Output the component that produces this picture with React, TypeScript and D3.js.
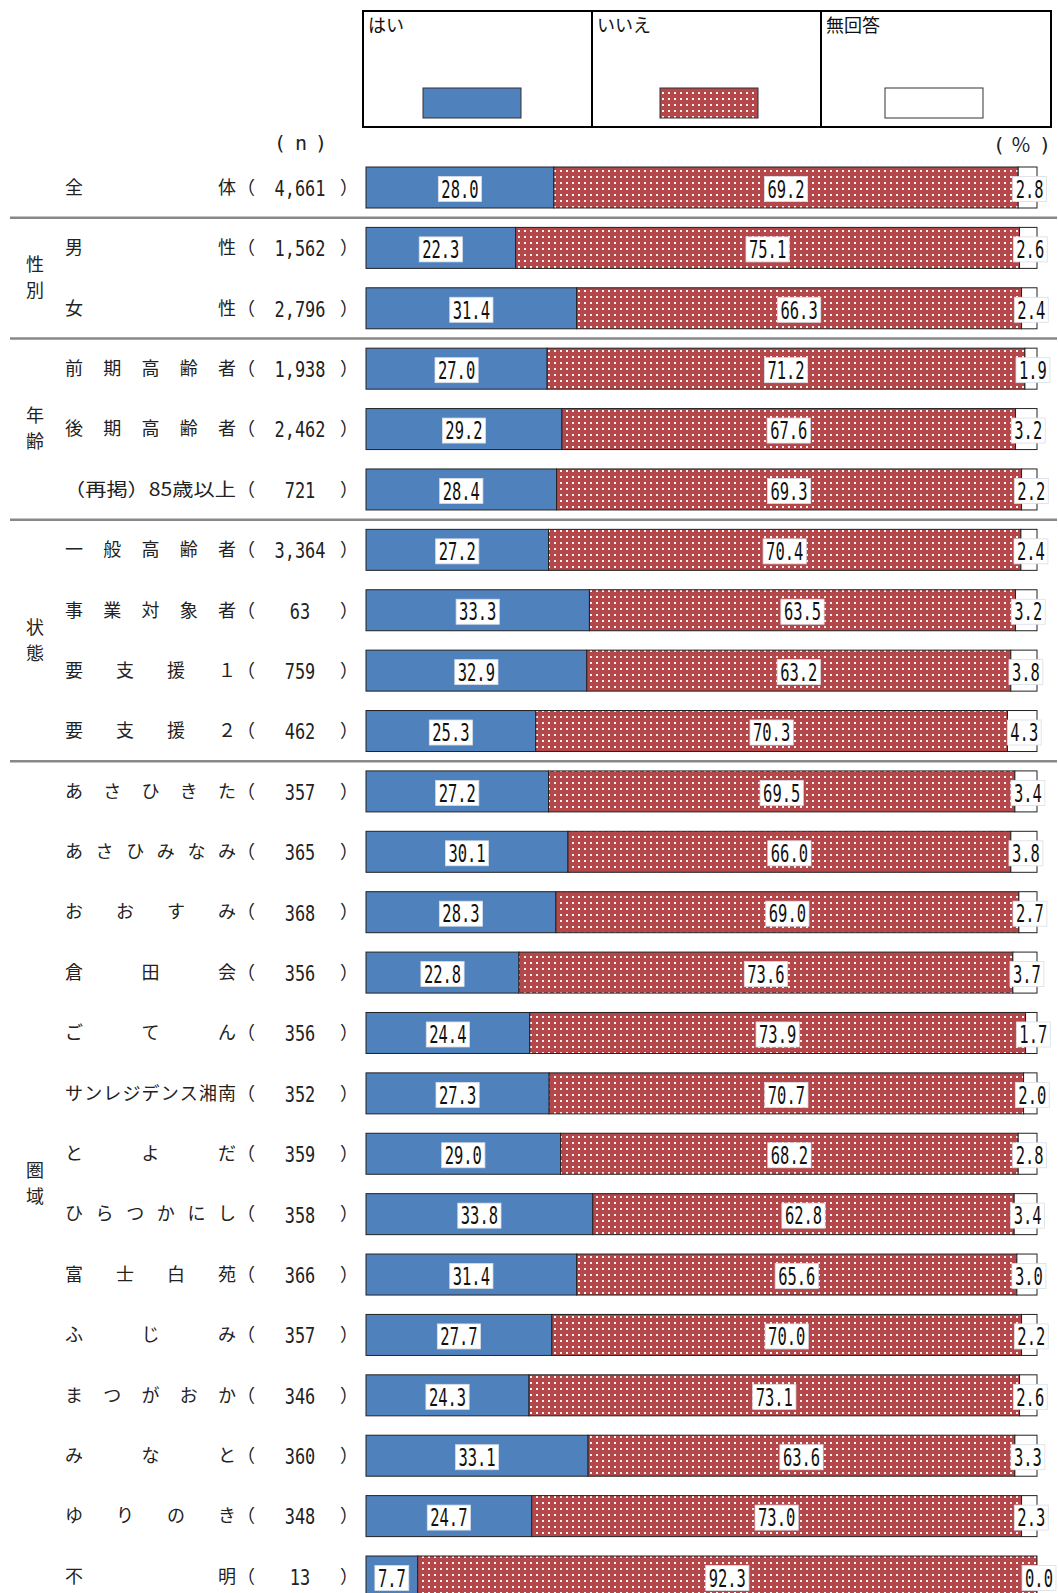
import * as d3 from "d3";

// rows (top to bottom)
const labels = [
  "全体", "男性", "女性",
  "前期高齢者", "後期高齢者", "（再掲）85歳以上",
  "一般高齢者", "事業対象者", "要支援１", "要支援２",
  "あさひきた", "あさひみなみ", "おおすみ", "倉田会", "ごてん", "サンレジデンス湘南",
  "とよだ", "ひらつかにし", "富士白苑", "ふじみ", "まつがおか", "みなと", "ゆりのき", "不明",
];
const nValues = [
  "4,661", "1,562", "2,796",
  "1,938", "2,462", "721",
  "3,364", "63", "759", "462",
  "357", "365", "368", "356", "356", "352", "359", "358", "366", "357", "346", "360", "348", "13",
];
const yes = [28.0, 22.3, 31.4, 27.0, 29.2, 28.4, 27.2, 33.3, 32.9, 25.3, 27.2, 30.1, 28.3, 22.8, 24.4, 27.3, 29.0, 33.8, 31.4, 27.7, 24.3, 33.1, 24.7, 7.7];
const no = [69.2, 75.1, 66.3, 71.2, 67.6, 69.3, 70.4, 63.5, 63.2, 70.3, 69.5, 66.0, 69.0, 73.6, 73.9, 70.7, 68.2, 62.8, 65.6, 70.0, 73.1, 63.6, 73.0, 92.3];
const noAnswer = [2.8, 2.6, 2.4, 1.9, 3.2, 2.2, 2.4, 3.2, 3.8, 4.3, 3.4, 3.8, 2.7, 3.7, 1.7, 2.0, 2.8, 3.4, 3.0, 2.2, 2.6, 3.3, 2.3, 0.0];
const seriesNames = ["はい", "いいえ", "無回答"];

// groups: [label, first row, last row]
const groups: [string, number, number][] = [
  ["性別", 1, 2],
  ["年齢", 3, 5],
  ["状態", 6, 9],
  ["圏域", 10, 23],
];
const separatorsAfter = [0, 2, 5, 9];

const W = 1058;
const H = 1593;
const JP = "'Noto Sans CJK JP', 'Noto Sans', sans-serif";
const MONO = "'DejaVu Sans Mono', 'Liberation Mono', monospace";
const BLUE = "#4f81bd";

const x = d3.scaleLinear().domain([0, 100]).range([366, 1037]);
const y = d3.scalePoint<number>().domain(d3.range(labels.length)).range([187.5, 1576.5]);
const barH = 41;

function CatLabel({ text, cy }: { text: string; cy: number }) {
  if (text.startsWith("（再掲）")) {
    // fullwidth paren has blank left half, so start a bit left
    return (
      <text x={64} y={cy} dy="0.35em" fontFamily={JP} fontSize={18} fill="#222"
        textLength={172} lengthAdjust="spacingAndGlyphs">{text}</text>
    );
  }
  const chars = Array.from(text);
  const pos = d3.scaleLinear().domain([0, Math.max(1, chars.length - 1)]).range([74, 227]);
  return (
    <g>
      {chars.map((c, i) => (
        <text key={i} x={pos(i)} y={cy} dy="0.35em" textAnchor="middle" fontFamily={JP} fontSize={18} fill="#222">{c}</text>
      ))}
    </g>
  );
}

function ValueLabel({ cx, cy, v }: { cx: number; cy: number; v: number }) {
  const s = v.toFixed(1);
  const tl = s.length * 9.3;
  return (
    <g>
      <rect x={cx - tl / 2 - 3} y={cy - 11} width={tl + 6} height={25} fill="#fff" stroke="#d8dde6" strokeWidth={0.8} />
      <text x={cx - tl / 2} y={cy + 1.5} dy="0.35em" fontFamily={MONO} fontSize={25} fill="#111"
        textLength={tl} lengthAdjust="spacingAndGlyphs">{s}</text>
    </g>
  );
}

export default function App() {
  const legendX = [363, 592, 821, 1051];
  const swatchOffset = [60, 68, 64];
  const swatchFill = [BLUE, "url(#dots)", "#fff"];
  return (
    <svg width={W} height={H} style={{ position: "absolute", left: 0, top: 0, background: "#fff" }}>
      <defs>
        <pattern id="dots" width={6} height={6} patternUnits="userSpaceOnUse">
          <rect width={6} height={6} fill="#b3474a" />
          <rect x={2} y={2} width={2} height={2} fill="#fff3f3" />
        </pattern>
      </defs>

      {/* legend */}
      <rect x={legendX[0]} y={11} width={legendX[3] - legendX[0]} height={116} fill="none" stroke="#000" strokeWidth={2} />
      {seriesNames.map((s, i) => (
        <g key={s}>
          {i > 0 && <line x1={legendX[i]} x2={legendX[i]} y1={11} y2={127} stroke="#000" strokeWidth={2} />}
          <text x={legendX[i] + 5} y={32} fontFamily={JP} fontSize={18} fill="#111">{s}</text>
          <rect x={legendX[i] + swatchOffset[i]} y={88} width={98} height={30} fill={swatchFill[i]} stroke="#333" strokeWidth={1} />
        </g>
      ))}

      {/* headers */}
      <g fontFamily={MONO} fontSize={20} fill="#222" textAnchor="middle">
        <text x={280} y={150}>(</text>
        <text x={301} y={150}>n</text>
        <text x={321} y={150}>)</text>
        <text x={999} y={152}>(</text>
        <text x={1021} y={152} fontFamily={JP}>%</text>
        <text x={1045} y={152}>)</text>
      </g>

      {/* separators */}
      {separatorsAfter.map((i) => {
        const sy = (y(i)! + y(i + 1)!) / 2;
        return <line key={i} x1={10} x2={1057} y1={sy} y2={sy} stroke="#888" strokeWidth={2.5} />;
      })}

      {/* group labels */}
      {groups.map(([g, a, b]) => {
        const cy = (y(a)! + y(b)!) / 2;
        return (
          <g key={g}>
            <text x={35} y={cy - 13} dy="0.35em" textAnchor="middle" fontFamily={JP} fontSize={18} fill="#222">{g[0]}</text>
            <text x={35} y={cy + 13} dy="0.35em" textAnchor="middle" fontFamily={JP} fontSize={18} fill="#222">{g[1]}</text>
          </g>
        );
      })}

      {/* rows */}
      {labels.map((lab, i) => {
        const cy = y(i)!;
        const top = cy - barH / 2;
        const x0 = x(0);
        const x1 = x(yes[i]);
        const x2 = x(yes[i] + no[i]);
        const x3 = x(100);
        const nl = nValues[i].length * 10.2;
        return (
          <g key={lab}>
            <CatLabel text={lab} cy={cy} />
            <text x={237} y={cy} dy="0.35em" fontFamily={JP} fontSize={18} fill="#222">（</text>
            <text x={300 - nl / 2} y={cy + 1} dy="0.35em" fontFamily={MONO} fontSize={21} fill="#222"
              textLength={nl} lengthAdjust="spacingAndGlyphs">{nValues[i]}</text>
            <text x={340} y={cy} dy="0.35em" fontFamily={JP} fontSize={18} fill="#222">）</text>

            <rect x={x0} y={top} width={x1 - x0} height={barH} fill={BLUE} stroke="#222" strokeWidth={1} />
            <rect x={x1} y={top} width={x2 - x1} height={barH} fill="url(#dots)" stroke="#222" strokeWidth={1} />
            <rect x={x2} y={top} width={Math.max(0, x3 - x2)} height={barH} fill="#fff" stroke="#222" strokeWidth={1} />

            <ValueLabel cx={(x0 + x1) / 2} cy={cy} v={yes[i]} />
            <ValueLabel cx={(x1 + x2) / 2} cy={cy} v={no[i]} />
            <ValueLabel cx={Math.min((x2 + x3) / 2 + 2, 1040)} cy={cy} v={noAnswer[i]} />
          </g>
        );
      })}
    </svg>
  );
}
